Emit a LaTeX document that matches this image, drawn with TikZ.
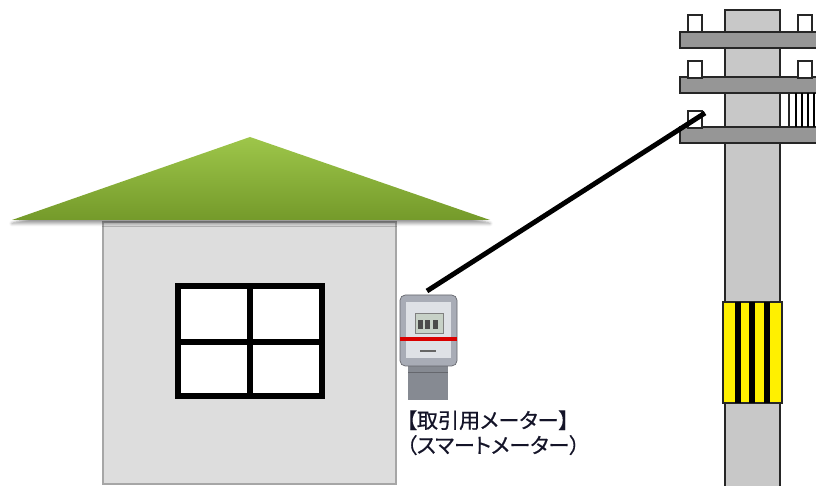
\documentclass[tikz,border=0pt]{standalone}
\usepackage{fontspec}
\newfontfamily\jpfont[RawFeature=+palt, FakeBold=0.6]{Noto Sans CJK JP}
\usetikzlibrary{shadows.blur}

\definecolor{roofhi}{RGB}{158,198,74}
\definecolor{rooflo}{RGB}{116,154,42}
\definecolor{wallgray}{RGB}{221,221,221}
\definecolor{polegray}{RGB}{200,200,200}
\definecolor{armgray}{RGB}{150,150,150}
\definecolor{metergray}{RGB}{168,172,182}
\definecolor{meterpanel}{RGB}{222,225,230}
\definecolor{bandyellow}{RGB}{255,240,0}
\definecolor{labelink}{RGB}{20,20,40}

\tikzset{
    wall/.style={draw=gray!70, line width=0.6pt, fill=wallgray},
    pole/.style={draw=black!85, line width=1.2pt, fill=polegray},
    arm/.style={draw=black!85, line width=1.2pt, fill=armgray},
    insulator/.style={draw=black!85, line width=1.2pt, fill=white},
}

\begin{document}
\begin{tikzpicture}[x=0.02cm, y=-0.02cm]
        \useasboundingbox (0,0) rectangle (816,486);

        % house
        \draw[wall] (103,222) rectangle (396,484);
        \shade[top color=roofhi, bottom color=rooflo,
            blur shadow={shadow xshift=0pt, shadow yshift=-2pt, shadow blur steps=6}]
            (250,137) -- (490,220) -- (12,220) -- cycle;
        \draw[line width=3.4pt, fill=white] (178,286) rectangle (322,396);
        \draw[line width=3.4pt] (250,286) -- (250,396);
        \draw[line width=3.4pt] (178,342) -- (322,342);

        % meter on the wall
        \fill[metergray!80!black] (408,362) rectangle (448,400);
        \draw[metergray!60!black, line width=0.5pt] (408,372) -- (448,372);
        \draw[metergray!60!black, rounded corners=3pt, fill=metergray] (400,295) rectangle (457,366);
        \fill[meterpanel] (406,302) rectangle (451,358);
        \draw[fill=green!10!gray!40, draw=gray] (415,313) rectangle (443,333);
        \foreach \x in {418,425,433} {
            \fill[black!70] (\x,320) rectangle ++(5,9);
        }
        \fill[red!85!black] (400,337) rectangle (457,341);
        \fill[black!60] (420,350) rectangle (436,352);
        \coordinate (meter) at (427,291);
        \node[anchor=north west, align=left, inner sep=0pt, text=labelink,
            font=\jpfont\fontsize{12pt}{14.2pt}\selectfont] (label) at (406,410)
            {【取引用メーター】\\（スマートメーター）};

        % utility pole
        \draw[pole] (725,10) rectangle (780,490);
        \foreach \y in {32,77,127} {
            \draw[arm] (680,\y) rectangle (818,\y+16);
        }
        \foreach \x/\y in {688/15, 798/15, 688/61, 798/61, 688/111} {
            \draw[insulator] (\x,\y) rectangle ++(14,17);
        }
        \draw[insulator] (789,93) rectangle (818,127);
        \foreach \x in {796,802,808,814} {
            \draw[line width=1.3pt] (\x,93) -- (\x,127);
        }
        \draw[pole, fill=bandyellow] (723,302) rectangle (782,403);
        \foreach \x in {738,752,767} {
            \fill (\x-3,302) rectangle (\x+3,403);
        }
        \coordinate (drop) at (705,113);

        % service drop
        \draw[line width=2.8pt] (meter) -- (drop);
\end{tikzpicture}
\end{document}
